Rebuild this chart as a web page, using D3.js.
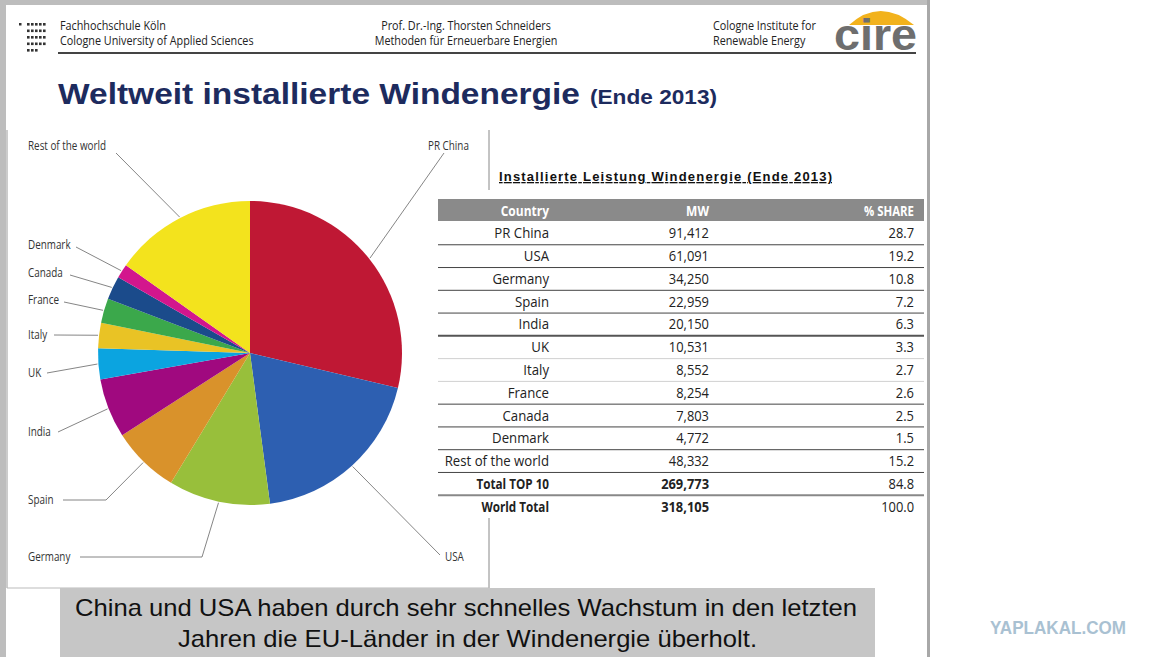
<!DOCTYPE html>
<html>
<head>
<meta charset="utf-8">
<script src="https://cdn.jsdelivr.net/npm/d3@7"></script>
<style>
  body { margin: 0; background: #fff; }
  svg { display: block; }
  .narrow { font-family: "Liberation Sans Narrow", "Open Sans", "Noto Sans", sans-serif; }
  .sans { font-family: "Liberation Sans", Arial, sans-serif; }
</style>
</head>
<body>
<div id="chart"></div>
<script>
// Installed wind capacity, end of 2013
const countries = ['PR China', 'USA', 'Germany', 'Spain', 'India', 'UK', 'Italy', 'France', 'Canada', 'Denmark', 'Rest of the world'];
const mw = [91412, 61091, 34250, 22959, 20150, 10531, 8552, 8254, 7803, 4772, 48332];
const share = [28.7, 19.2, 10.8, 7.2, 6.3, 3.3, 2.7, 2.6, 2.5, 1.5, 15.2];
const totalLabels = ['Total TOP 10', 'World Total'];
const totalMw = [269773, 318105];
const totalShare = [84.8, 100.0];
const sliceColors = ['#bf1834', '#2d5fb1', '#98bf3b', '#d9922b', '#a0097f', '#0ba4e0', '#e9c325', '#3ba84b', '#1b4b8b', '#d3168d', '#f3e31d'];

// where each pie label sits (layout only)
const labelPos = {
  'PR China': { x: 428, y: 150, lx: 444, ly: 153 },
  'USA': { x: 445, y: 561, lx: 440, ly: 555 },
  'Germany': { x: 28, y: 561, lx: 80, ly: 557, ex: 202 },
  'Spain': { x: 28, y: 504, lx: 63, ly: 500, ex: 106 },
  'India': { x: 28, y: 436, lx: 58, ly: 432 },
  'UK': { x: 28, y: 377, lx: 47, ly: 373 },
  'Italy': { x: 28, y: 339, lx: 54, ly: 335 },
  'France': { x: 28, y: 304, lx: 64, ly: 302 },
  'Canada': { x: 28, y: 277, lx: 70, ly: 275 },
  'Denmark': { x: 28, y: 249, lx: 76, ly: 247 },
  'Rest of the world': { x: 28, y: 150, lx: 116, ly: 153 }
};

const W = 1152, H = 657;
const svg = d3.select('#chart').append('svg').attr('width', W).attr('height', H);

// condensed text: no narrow face installed, so squeeze horizontally
function narrow(g, x, y, txt, opts = {}) {
  const sx = opts.sx || 0.82;
  return g.append('text').attr('class', 'narrow')
    .attr('transform', `translate(${x},${y}) scale(${sx},1)`)
    .attr('text-anchor', opts.anchor || 'start')
    .attr('font-size', opts.size || 13)
    .attr('font-weight', opts.weight || 'normal')
    .attr('fill', opts.fill || '#222')
    .text(txt);
}

// slide frame
svg.append('rect').attr('x', 0).attr('y', 0).attr('width', 930).attr('height', 5).attr('fill', '#bdbdbd');
svg.append('rect').attr('x', 0).attr('y', 0).attr('width', 6).attr('height', H).attr('fill', '#bdbdbd');
svg.append('rect').attr('x', 927).attr('y', 0).attr('width', 3).attr('height', H).attr('fill', '#a8a8a8');

// header
const logo = svg.append('g').attr('fill', '#333');
logo.append('rect').attr('x', 19).attr('y', 23).attr('width', 2.5).attr('height', 2.5);
[[0, 5], [1, 5], [2, 5], [3, 5], [4, 3]].forEach(([r, n]) => {
  d3.range(n).forEach(c => {
    logo.append('rect').attr('x', 27 + c * 4).attr('y', 23 + r * 6.5).attr('width', 2.6).attr('height', 2.6);
  });
});
const hdr = svg.append('g');
narrow(hdr, 60, 30, 'Fachhochschule Köln', { size: 12, sx: 0.9 });
narrow(hdr, 60, 45, 'Cologne University of Applied Sciences', { size: 12, sx: 0.9 });
narrow(hdr, 466, 30, 'Prof. Dr.-Ing. Thorsten Schneiders', { size: 12, sx: 0.9, anchor: 'middle' });
narrow(hdr, 466, 45, 'Methoden für Erneuerbare Energien', { size: 12, sx: 0.9, anchor: 'middle' });
narrow(hdr, 713, 30, 'Cologne Institute for', { size: 12, sx: 0.9 });
narrow(hdr, 713, 45, 'Renewable Energy', { size: 12, sx: 0.9 });
svg.append('line').attr('x1', 58).attr('x2', 916).attr('y1', 53).attr('y2', 53).attr('stroke', '#444').attr('stroke-width', 2);

// cire logo
svg.append('path').attr('d', 'M849,25 Q880,-3 914,25 Z').attr('fill', '#f2b21c');
svg.append('text').attr('class', 'sans').attr('x', 834).attr('y', 50).attr('font-size', 44).attr('font-weight', 'bold')
  .attr('fill', '#6e6e6e').attr('textLength', 83).attr('lengthAdjust', 'spacingAndGlyphs').text('cire');

// title
svg.append('text').attr('class', 'sans').attr('x', 58).attr('y', 104).attr('fill', '#1d2b5e').attr('font-weight', 'bold')
  .attr('font-size', 30).attr('textLength', 522).attr('lengthAdjust', 'spacingAndGlyphs').text('Weltweit installierte Windenergie');
svg.append('text').attr('class', 'sans').attr('x', 590).attr('y', 104).attr('fill', '#1d2b5e').attr('font-weight', 'bold')
  .attr('font-size', 20).attr('textLength', 127).attr('lengthAdjust', 'spacingAndGlyphs').text('(Ende 2013)');

// pie panel frame
svg.append('line').attr('x1', 7).attr('x2', 7).attr('y1', 130).attr('y2', 588).attr('stroke', '#999');
svg.append('line').attr('x1', 489).attr('x2', 489).attr('y1', 130).attr('y2', 588).attr('stroke', '#888');
svg.append('line').attr('x1', 7).attr('x2', 489).attr('y1', 588).attr('y2', 588).attr('stroke', '#bbb');

// pie
const cx = 250, cy = 353, R = 152;
const pieData = d3.pie().sort(null).value(d => d.share)(countries.map((c, i) => ({ name: c, share: share[i], color: sliceColors[i] })));
const arc = d3.arc().innerRadius(0).outerRadius(R);
const pg = svg.append('g').attr('transform', `translate(${cx},${cy})`);
pg.selectAll('path').data(pieData).join('path').attr('d', arc).attr('fill', d => d.data.color);

// leader lines + labels
const lbl = svg.append('g');
pieData.forEach(d => {
  const p = labelPos[d.data.name];
  const a = (d.startAngle + d.endAngle) / 2;
  const px = cx + (R + 1) * Math.sin(a), py = cy - (R + 1) * Math.cos(a);
  const pts = [[p.lx, p.ly]];
  if (p.ex) pts.push([p.ex, p.ly]);
  pts.push([px, py]);
  lbl.append('path').attr('d', d3.line()(pts)).attr('fill', 'none').attr('stroke', '#666').attr('stroke-width', 0.8);
  narrow(lbl, p.x, p.y, d.data.name, { size: 13, sx: 0.76, fill: '#333' });
});

// table
const tx0 = 438, tx1 = 924;
const colCountry = 549, colMw = 709, colShare = 914;
svg.append('rect').attr('x', tx0).attr('y', 190).attr('width', tx1 - tx0).attr('height', 328).attr('fill', '#fff');
svg.append('text').attr('class', 'sans').attr('x', 499).attr('y', 181).attr('font-size', 13).attr('font-weight', 'bold')
  .attr('fill', '#111').attr('text-decoration', 'underline').attr('textLength', 333).text('Installierte Leistung Windenergie (Ende 2013)');

svg.append('rect').attr('x', tx0).attr('y', 199).attr('width', tx1 - tx0).attr('height', 22).attr('fill', '#8a8a8a');
const head = svg.append('g');
narrow(head, colCountry, 216, 'Country', { size: 15, sx: 0.8, weight: 'bold', fill: '#fff', anchor: 'end' });
narrow(head, colMw, 216, 'MW', { size: 15, sx: 0.8, weight: 'bold', fill: '#fff', anchor: 'end' });
narrow(head, colShare, 216, '% SHARE', { size: 15, sx: 0.76, weight: 'bold', fill: '#fff', anchor: 'end' });

const rows = countries.map((c, i) => ({ name: c, mw: mw[i], share: share[i], bold: false }))
  .concat(totalLabels.map((c, i) => ({ name: c, mw: totalMw[i], share: totalShare[i], bold: true })));
const rowY = d3.scaleBand().domain(rows.map(r => r.name)).range([222, 518]);
const fmt = d3.format(',');
const lineStyle = i => i === 4 ? ['#555', 2] : (i === 5 || i === 6) ? ['#d0d0d0', 1] : i === 11 ? ['#888', 2] : ['#444', 1];

const tg = svg.append('g');
rows.forEach((r, i) => {
  const y = rowY(r.name), mid = y + rowY.bandwidth() / 2 + 5;
  const w = r.bold ? 'bold' : 'normal';
  narrow(tg, colCountry, mid, r.name, { size: 15, sx: r.bold ? 0.78 : 0.88, weight: w, anchor: 'end' });
  narrow(tg, colMw, mid, fmt(r.mw), { size: 15, sx: 0.86, weight: w, anchor: 'end' });
  narrow(tg, colShare, mid, r.share.toFixed(1), { size: 15, sx: 0.86, anchor: 'end' });
  if (i < rows.length - 1) {
    const [c, sw] = lineStyle(i);
    svg.append('line').attr('x1', tx0).attr('x2', tx1).attr('y1', y + rowY.bandwidth()).attr('y2', y + rowY.bandwidth())
      .attr('stroke', c).attr('stroke-width', sw);
  }
});

// caption
svg.append('rect').attr('x', 60).attr('y', 588).attr('width', 815).attr('height', 69).attr('fill', '#c6c6c6');
const cap = svg.append('g').attr('class', 'sans').attr('font-size', 24).attr('fill', '#111');
cap.append('text').attr('x', 75).attr('y', 616).attr('textLength', 782).attr('lengthAdjust', 'spacingAndGlyphs')
  .text('China und USA haben durch sehr schnelles Wachstum in den letzten');
cap.append('text').attr('x', 178).attr('y', 647).attr('textLength', 579).attr('lengthAdjust', 'spacingAndGlyphs')
  .text('Jahren die EU-Länder in der Windenergie überholt.');

// watermark
svg.append('text').attr('class', 'sans').attr('x', 990).attr('y', 634)
  .attr('font-size', 19).attr('font-weight', 'bold').attr('fill', '#a9c1d2')
  .attr('textLength', 136).attr('lengthAdjust', 'spacingAndGlyphs').text('YAPLAKAL.COM');
</script>
</body>
</html>
